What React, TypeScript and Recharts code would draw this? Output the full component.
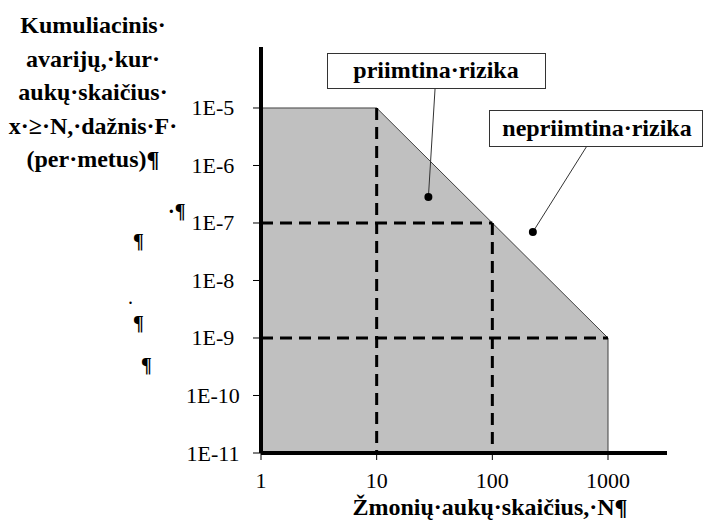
import React from 'react';
import {
  ComposedChart,
  Area,
  Line,
  XAxis,
  YAxis,
  ReferenceLine,
  ReferenceDot,
} from 'recharts';

// F-N kreivė: priimtinos rizikos riba
const frontierN = [1, 10, 100, 1000, 1000];
const frontierF = [1e-5, 1e-5, 1e-7, 1e-9, 1e-11];

// brūkšninės pagalbinės linijos
const guide10N = [10, 10];
const guide10F = [1e-5, 1e-11];
const guide100N = [100, 100];
const guide100F = [1e-7, 1e-11];
const guide7N = [1, 100];
const guide7F = [1e-7, 1e-7];
const guide9N = [1, 1000];
const guide9F = [1e-9, 1e-9];

const xTicks = [1, 10, 100, 1000];
const yTicks = [1e-11, 1e-10, 1e-9, 1e-8, 1e-7, 1e-6, 1e-5];

// rodyklių taškai (duomenų koordinatėmis)
const acceptLeader = [
  { n: 32, f: 2.23e-5 },
  { n: 28, f: 2.83e-7 },
];
const rejectLeader = [
  { n: 657, f: 2.18e-6 },
  { n: 224, f: 6.97e-8 },
];

const yTitle = [
  'Kumuliacinis·',
  'avarijų,·kur·',
  'aukų·skaičius·',
  'x·≥·N,·dažnis·F·',
  '(per·metus)¶',
];

const serif =
  '"Liberation Serif", "Times New Roman", Tinos, "Nimbus Roman", "Nimbus Roman No9 L", FreeSerif, "DejaVu Serif", Times, serif';

const toRows = (ns: number[], fs: number[]) => ns.map((n, i) => ({ n, f: fs[i] }));

const frontier = toRows(frontierN, frontierF);

const fmtY = (v: number) => `1E${Math.round(Math.log10(v))}`;

const YTick = ({ x, y, payload }: any) => (
  <text x={x - 40} y={y} dy={7.5} textAnchor="middle" fontSize={22} style={{ fontFamily: serif }} fill="#000">
    {fmtY(payload.value)}
  </text>
);

const XTick = ({ x, y, payload }: any) => (
  <text x={x} y={y} dy={28} textAnchor="middle" fontSize={22} style={{ fontFamily: serif }} fill="#000">
    {payload.value}
  </text>
);

const dashed = { stroke: '#000', strokeWidth: 3, strokeDasharray: '12 7' };

export default function App() {
  return (
    <div style={{ position: 'absolute', left: 0, top: 0, width: 703, height: 523, background: '#fff', fontFamily: serif }}>
      <ComposedChart
        width={703}
        height={523}
        data={frontier}
        margin={{ top: 47, right: 36, bottom: 0, left: 0 }}
      >
        <XAxis
          dataKey="n"
          type="number"
          scale="log"
          domain={[1, 3236]}
          allowDataOverflow
          ticks={xTicks}
          height={70}
          axisLine={{ stroke: '#000', strokeWidth: 4 }}
          tickLine={{ stroke: '#000', strokeWidth: 1 }}
          tickSize={7}
          tickMargin={0}
          tick={<XTick />}
        />
        <YAxis
          dataKey="f"
          type="number"
          scale="log"
          domain={[1e-11, 1.15e-4]}
          allowDataOverflow
          ticks={yTicks}
          width={261}
          axisLine={{ stroke: '#000', strokeWidth: 4 }}
          tickLine={{ stroke: '#000', strokeWidth: 1 }}
          tickSize={8}
          tickMargin={0}
          tick={<YTick />}
        />
        <Area
          dataKey="f"
          type="linear"
          fill="#c0c0c0"
          fillOpacity={1}
          stroke="#404040"
          strokeWidth={1}
          isAnimationActive={false}
        />
        <Line data={toRows(guide10N, guide10F)} dataKey="f" type="linear" dot={false} {...dashed} isAnimationActive={false} />
        <Line data={toRows(guide100N, guide100F)} dataKey="f" type="linear" dot={false} {...dashed} isAnimationActive={false} />
        <Line data={toRows(guide7N, guide7F)} dataKey="f" type="linear" dot={false} {...dashed} isAnimationActive={false} />
        <Line data={toRows(guide9N, guide9F)} dataKey="f" type="linear" dot={false} {...dashed} isAnimationActive={false} />
        <ReferenceLine
          segment={acceptLeader.map((p) => ({ x: p.n, y: p.f }))}
          stroke="#333"
          strokeWidth={1}
          ifOverflow="visible"
        />
        <ReferenceLine
          segment={rejectLeader.map((p) => ({ x: p.n, y: p.f }))}
          stroke="#333"
          strokeWidth={1}
          ifOverflow="visible"
        />
        <ReferenceDot x={acceptLeader[1].n} y={acceptLeader[1].f} r={4} fill="#000" stroke="none" ifOverflow="visible" />
        <ReferenceDot x={rejectLeader[1].n} y={rejectLeader[1].f} r={4} fill="#000" stroke="none" ifOverflow="visible" />
      </ComposedChart>

      <svg
        width={703}
        height={523}
        style={{ position: 'absolute', left: 0, top: 0, pointerEvents: 'none', fontFamily: serif }}
      >
        {yTitle.map((line, i) => (
          <text key={i} x={93} y={33 + i * 33.5} textAnchor="middle" fontSize={24} fontWeight="bold">
            {line}
          </text>
        ))}

        <text x={490} y={515} textAnchor="middle" fontSize={24} fontWeight="bold">
          Žmonių·aukų·skaičius,·N¶
        </text>

        {/* Word formatavimo ženklai */}
        <text x={168} y={218} fontSize={20} fontWeight="bold">·¶</text>
        <text x={133} y={248} fontSize={20} fontWeight="bold">¶</text>
        <text x={128} y={304} fontSize={20}>.</text>
        <text x={133} y={330} fontSize={20} fontWeight="bold">¶</text>
        <text x={141} y={372} fontSize={20} fontWeight="bold">¶</text>

        <rect x={327.5} y={53.5} width={218} height={35} fill="#fff" stroke="#333" strokeWidth={1} />
        <text x={436} y={78} textAnchor="middle" fontSize={24} fontWeight="bold">
          priimtina·rizika
        </text>

        <rect x={489.5} y={110.5} width={213} height={36} fill="#fff" stroke="#333" strokeWidth={1} />
        <text x={597} y={136} textAnchor="middle" fontSize={24} fontWeight="bold">
          nepriimtina·rizika
        </text>
      </svg>
    </div>
  );
}
